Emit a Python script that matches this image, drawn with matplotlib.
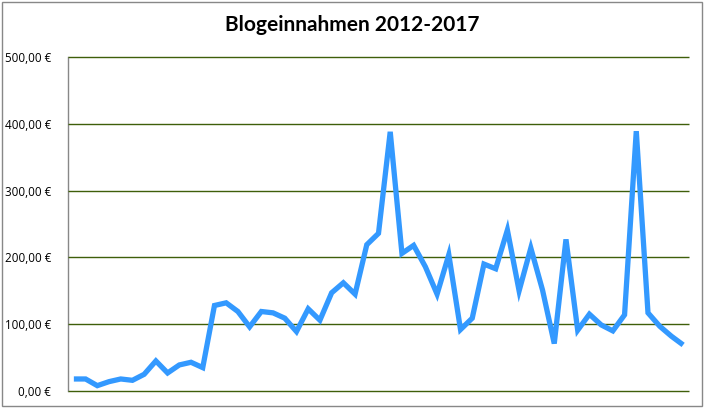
import matplotlib
matplotlib.use("Agg")
import matplotlib.pyplot as plt
from matplotlib.patches import Rectangle
from matplotlib.ticker import FuncFormatter

title = "Blogeinnahmen 2012-2017"
yticks = [0, 100, 200, 300, 400, 500]
values = [18, 18, 8, 14, 18, 16, 25, 45, 27, 39, 43, 35,
          128, 132, 119, 96, 119, 117, 109, 89, 123, 106, 147, 162,
          145, 219, 236, 388, 206, 218, 186, 145, 204, 92, 109, 190,
          183, 241, 150, 214, 151, 71, 227, 91, 115, 99, 90, 114,
          389, 117, 97, 82, 69]
months = list(range(len(values)))

W, H = 705, 408
fig = plt.figure(figsize=(W / 100, H / 100), dpi=100)
fig.patch.set_facecolor("white")

# plot area in pixels: x 68..689, y 57..391
left, right, top, bottom = 68, 689, 57, 391
ax = fig.add_axes([left / W, 1 - bottom / H, (right - left) / W, (bottom - top) / H])

xmin, xmax = -0.5, len(values) - 0.5
ax.hlines(yticks, xmin, xmax, color="#3F5F0A", lw=1.0, zorder=1, clip_on=False)
ax.plot(months, values, color="#3399FF", lw=3.8, solid_joinstyle="miter",
        solid_capstyle="butt", zorder=3)
ax.set_xlim(xmin, xmax)
ax.set_ylim(0, 500)
ax.set_yticks(yticks)
ax.yaxis.set_major_formatter(FuncFormatter(lambda v, p: f"{v:.2f} €".replace(".", ",")))
ax.set_xticks([])
ax.tick_params(axis="y", length=0, pad=12, labelsize=8.4, labelcolor="black")
for lab in ax.get_yticklabels():
    lab.set_family(["Open Sans", "DejaVu Sans"])
for s in ["top", "right", "bottom"]:
    ax.spines[s].set_visible(False)
ax.spines["left"].set_color("#888888")
ax.spines["left"].set_linewidth(1.0)
ax.spines["left"].set_zorder(0.5)

fig.text(352 / W, 1 - 25 / H, title, ha="center", va="center",
         fontsize=15, fontweight="bold", family=["Lato", "DejaVu Sans"], color="black")

# outer chart border
fig.patches.append(Rectangle((2 / W, 2 / H), 700 / W, 404 / H, transform=fig.transFigure,
                             fill=False, edgecolor="#888888", lw=1.0))

fig.savefig("out.png", dpi=100, facecolor="white")
